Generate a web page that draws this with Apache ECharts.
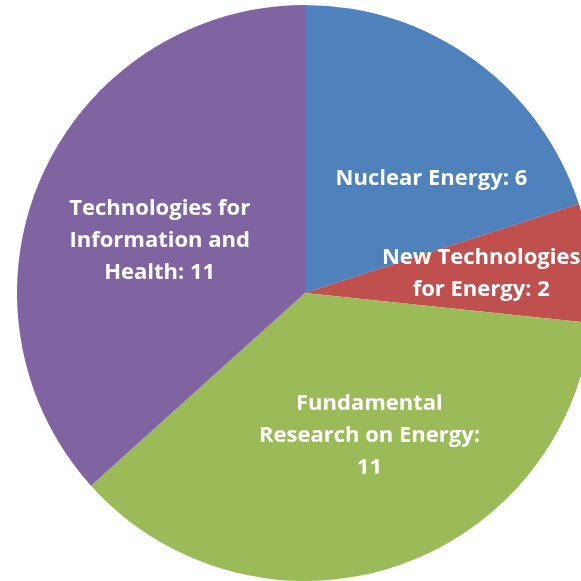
<!DOCTYPE html>
<html><head><meta charset="utf-8">
<script src="https://cdn.jsdelivr.net/npm/echarts@6/dist/echarts.min.js"></script>
<style>html,body{margin:0;padding:0;background:#fff}#c{width:581px;height:581px}</style>
</head><body><div id="c"></div>
<script>
const categories = ['Nuclear Energy', 'New Technologies\nfor Energy', 'Fundamental\nResearch on Energy:\n', 'Technologies for\nInformation and\nHealth:'];
const values = [6, 2, 11, 11];
const colors = ['#4F81BD', '#C0504D', '#9BBB59', '#8064A2'];
const labelOffsets = [[40, 5], [30, -4], [19, 3], [-11, 8]];

const chart = echarts.init(document.getElementById('c'), null, {renderer: 'canvas'});
chart.setOption({
  animation: false,
  series: [{
    type: 'pie',
    center: [305, 293],
    radius: [0, 288],
    startAngle: 90,
    clockwise: true,
    avoidLabelOverlap: false,
    label: {
      position: 'inside',
      color: '#fff',
      fontFamily: 'Open Sans',
      fontWeight: 'bold',
      fontSize: 22,
      lineHeight: 32,
      formatter: p => {
        const n = p.name;
        if (n.endsWith('\n')) return n + p.value;
        if (n.endsWith(':')) return n + ' ' + p.value;
        return n + ': ' + p.value;
      }
    },
    labelLine: {show: false},
    itemStyle: {borderWidth: 0},
    data: values.map((v, i) => ({
      value: v,
      name: categories[i],
      itemStyle: {color: colors[i]},
      label: {offset: labelOffsets[i]}
    }))
  }]
});
</script></body></html>
